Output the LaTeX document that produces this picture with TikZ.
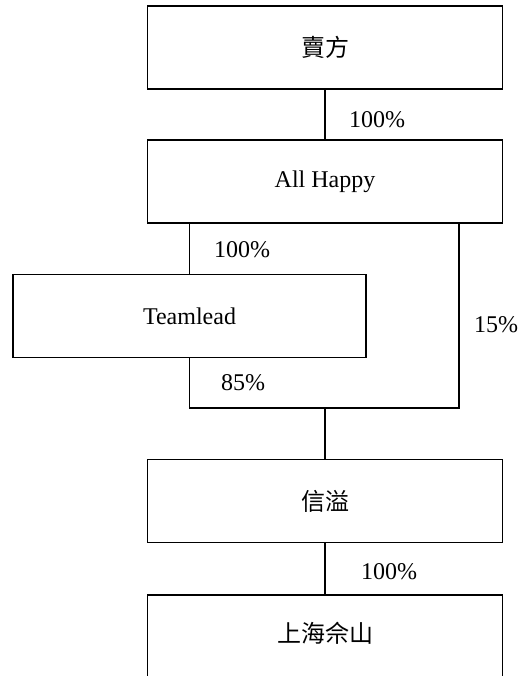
\documentclass[tikz,border=0pt]{standalone}
\usepackage{fontspec}
\setmainfont{Liberation Serif}
\newfontfamily\cjk{Noto Sans CJK TC}

\begin{document}
\begin{tikzpicture}[
  x=0.5pt, y=-0.5pt,
  font=\fontsize{12}{14}\selectfont,
  line/.style={line width=0.9pt},
  entity/.style={draw, line width=0.9pt, minimum width=177.5pt, minimum height=41.5pt, inner sep=0pt},
  subentity/.style={entity, minimum width=176.5pt},
  openentity/.style={draw, line width=0.9pt, minimum width=177.5pt, minimum height=60pt, anchor=north, inner sep=0pt},
  share/.style={inner sep=0pt}
]

\useasboundingbox (0,0) rectangle (527,676);

\node[entity] (seller) at (325,47.5) {\cjk 賣方};
\node[entity] (allhappy) at (325,181.5) {All Happy};
\node[subentity] (teamlead) at (189.5,316) {Teamlead};
\node[entity] (xinyi) at (325,501) {\cjk 信溢};
\node[openentity] (shanghai) at (325,594) {};
\node (shanghaitext) at (325,633) {\cjk 上海佘山};

\coordinate (branch) at (459,223);
\coordinate (merge) at (325,408);

\draw[line] (seller) -- (allhappy);
\draw[line] (allhappy.south -| teamlead) -- (teamlead);
\draw[line] (branch) |- (teamlead.south |- merge) -- (teamlead.south);
\draw[line] (merge) -- (xinyi);
\draw[line] (xinyi) -- (shanghai);

\node[share] (seller2allhappy) at (377,120) {100\%};
\node[share] (allhappy2teamlead) at (242,250) {100\%};
\node[share] (teamlead2xinyi) at (243,383) {85\%};
\node[share] (allhappy2xinyi) at (496,325) {15\%};
\node[share] (xinyi2shanghai) at (389,572) {100\%};

\end{tikzpicture}
\end{document}
